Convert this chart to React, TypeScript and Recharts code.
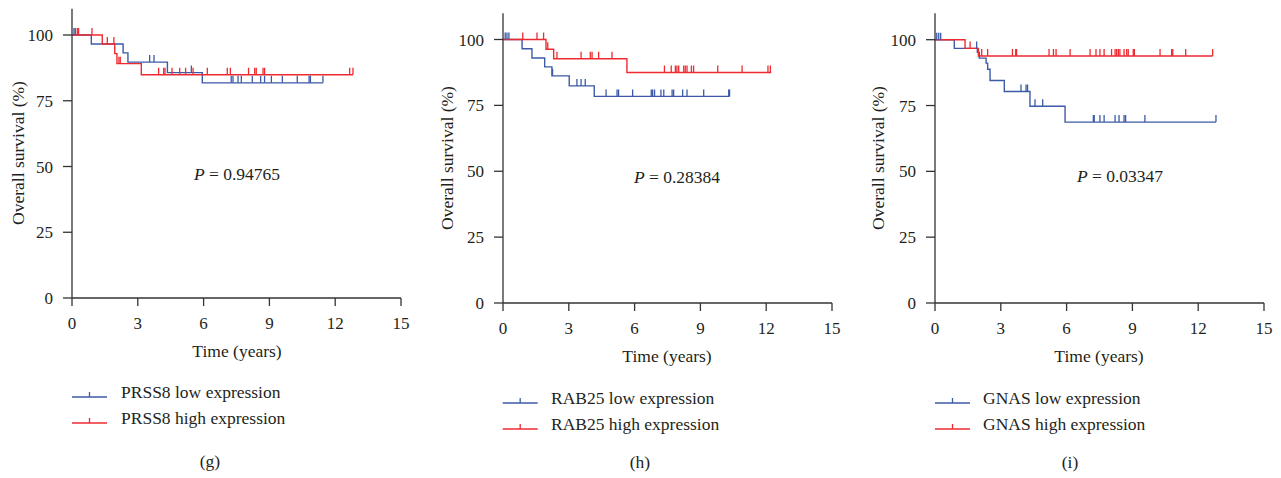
import React from 'react';
import { ComposedChart, Line, Scatter, XAxis, YAxis } from 'recharts';

const BLUE = '#3c5aa8';
const RED = '#ee2a30';
const AXIS = '#333333';
const TEXT = '#231f20';
const FONT = '"Liberation Serif", "Times New Roman", serif';

const xTicks = [0, 3, 6, 9, 12, 15];
const yTicks = [0, 25, 50, 75, 100];

// Panel (g) PRSS8
const prss8Low = [
  { t: 0, s: 100 }, { t: 0.88, s: 96.6 }, { t: 2.33, s: 93.2 }, { t: 2.55, s: 89.7 },
  { t: 4.35, s: 85.7 }, { t: 5.94, s: 81.8 }, { t: 11.44, s: 81.8 },
];
const prss8High = [
  { t: 0, s: 100 }, { t: 1.38, s: 96.6 }, { t: 1.95, s: 92.9 }, { t: 2.05, s: 89.1 },
  { t: 3.16, s: 84.9 }, { t: 12.81, s: 84.9 },
];
const prss8LowCensor = [
  { t: 0.09, s: 100 }, { t: 0.15, s: 100 }, { t: 3.54, s: 89.7 }, { t: 3.74, s: 89.7 },
  { t: 5.44, s: 85.7 }, { t: 7.26, s: 81.8 }, { t: 7.34, s: 81.8 }, { t: 7.57, s: 81.8 },
  { t: 7.72, s: 81.8 }, { t: 8.22, s: 81.8 }, { t: 8.6, s: 81.8 }, { t: 8.78, s: 81.8 },
  { t: 9.09, s: 81.8 }, { t: 9.59, s: 81.8 }, { t: 10.27, s: 81.8 }, { t: 10.81, s: 81.8 },
  { t: 10.87, s: 81.8 }, { t: 11.44, s: 81.8 },
];
const prss8HighCensor = [
  { t: 0.24, s: 100 }, { t: 0.3, s: 100 }, { t: 0.91, s: 100 }, { t: 1.61, s: 96.6 },
  { t: 1.91, s: 96.6 }, { t: 2.14, s: 89.1 }, { t: 2.2, s: 89.1 }, { t: 3.95, s: 84.9 },
  { t: 4.18, s: 84.9 }, { t: 4.24, s: 84.9 }, { t: 4.56, s: 84.9 }, { t: 4.91, s: 84.9 },
  { t: 5.18, s: 84.9 }, { t: 5.52, s: 84.9 }, { t: 6.17, s: 84.9 }, { t: 7.08, s: 84.9 },
  { t: 7.22, s: 84.9 }, { t: 8.05, s: 84.9 }, { t: 8.33, s: 84.9 }, { t: 8.4, s: 84.9 },
  { t: 8.71, s: 84.9 }, { t: 8.78, s: 84.9 }, { t: 12.66, s: 84.9 }, { t: 12.81, s: 84.9 },
];

// Panel (h) RAB25
const rab25Low = [
  { t: 0, s: 100 }, { t: 0.87, s: 96.5 }, { t: 1.32, s: 93.0 }, { t: 1.9, s: 89.6 },
  { t: 2.23, s: 86.2 }, { t: 3.02, s: 82.4 }, { t: 4.16, s: 78.4 }, { t: 10.33, s: 78.4 },
];
const rab25High = [
  { t: 0, s: 100 }, { t: 1.96, s: 96.3 }, { t: 2.31, s: 92.7 }, { t: 5.65, s: 87.5 },
  { t: 12.23, s: 87.5 },
];
const rab25LowCensor = [
  { t: 0.1, s: 100 }, { t: 0.18, s: 100 }, { t: 0.27, s: 100 }, { t: 2.26, s: 86.2 },
  { t: 3.37, s: 82.4 }, { t: 3.56, s: 82.4 }, { t: 3.75, s: 82.4 }, { t: 4.7, s: 78.4 },
  { t: 5.2, s: 78.4 }, { t: 5.27, s: 78.4 }, { t: 5.91, s: 78.4 }, { t: 6.76, s: 78.4 },
  { t: 6.82, s: 78.4 }, { t: 6.91, s: 78.4 }, { t: 7.2, s: 78.4 }, { t: 7.33, s: 78.4 },
  { t: 7.71, s: 78.4 }, { t: 7.78, s: 78.4 }, { t: 8.19, s: 78.4 }, { t: 8.39, s: 78.4 },
  { t: 9.15, s: 78.4 }, { t: 10.29, s: 78.4 }, { t: 10.33, s: 78.4 },
];
const rab25HighCensor = [
  { t: 0.9, s: 100 }, { t: 1.55, s: 100 }, { t: 1.85, s: 100 }, { t: 2.04, s: 96.3 },
  { t: 2.46, s: 92.7 }, { t: 3.56, s: 92.7 }, { t: 3.98, s: 92.7 }, { t: 4.06, s: 92.7 },
  { t: 4.36, s: 92.7 }, { t: 4.97, s: 92.7 }, { t: 7.36, s: 87.5 }, { t: 7.67, s: 87.5 },
  { t: 7.86, s: 87.5 }, { t: 7.93, s: 87.5 }, { t: 8.01, s: 87.5 }, { t: 8.24, s: 87.5 },
  { t: 8.31, s: 87.5 }, { t: 8.39, s: 87.5 }, { t: 8.59, s: 87.5 }, { t: 8.69, s: 87.5 },
  { t: 9.79, s: 87.5 }, { t: 10.9, s: 87.5 }, { t: 12.08, s: 87.5 }, { t: 12.19, s: 87.5 },
];

// Panel (i) GNAS
const gnasLow = [
  { t: 0, s: 100 }, { t: 0.88, s: 96.7 }, { t: 1.93, s: 95.2 }, { t: 2.02, s: 93.0 },
  { t: 2.33, s: 91.1 }, { t: 2.4, s: 88.8 }, { t: 2.51, s: 84.5 }, { t: 3.16, s: 80.3 },
  { t: 4.33, s: 74.7 }, { t: 5.93, s: 68.7 }, { t: 12.81, s: 68.7 },
];
const gnasHigh = [
  { t: 0, s: 100 }, { t: 1.37, s: 96.7 }, { t: 1.98, s: 93.8 }, { t: 12.66, s: 93.8 },
];
const gnasLowCensor = [
  { t: 0.08, s: 100 }, { t: 0.17, s: 100 }, { t: 0.26, s: 100 }, { t: 1.9, s: 96.7 },
  { t: 3.92, s: 80.3 }, { t: 4.15, s: 80.3 }, { t: 4.22, s: 80.3 }, { t: 4.56, s: 74.7 },
  { t: 4.91, s: 74.7 }, { t: 7.22, s: 68.7 }, { t: 7.26, s: 68.7 }, { t: 7.52, s: 68.7 },
  { t: 7.71, s: 68.7 }, { t: 8.21, s: 68.7 }, { t: 8.39, s: 68.7 }, { t: 8.62, s: 68.7 },
  { t: 8.69, s: 68.7 }, { t: 9.57, s: 68.7 }, { t: 12.81, s: 68.7 },
];
const gnasHighCensor = [
  { t: 1.6, s: 96.7 }, { t: 2.13, s: 93.8 }, { t: 2.4, s: 93.8 }, { t: 3.53, s: 93.8 },
  { t: 3.68, s: 93.8 }, { t: 3.72, s: 93.8 }, { t: 5.2, s: 93.8 }, { t: 5.4, s: 93.8 },
  { t: 5.52, s: 93.8 }, { t: 6.16, s: 93.8 }, { t: 7.07, s: 93.8 }, { t: 7.34, s: 93.8 },
  { t: 7.52, s: 93.8 }, { t: 7.71, s: 93.8 }, { t: 8.05, s: 93.8 }, { t: 8.21, s: 93.8 },
  { t: 8.28, s: 93.8 }, { t: 8.36, s: 93.8 }, { t: 8.43, s: 93.8 }, { t: 8.62, s: 93.8 },
  { t: 8.74, s: 93.8 }, { t: 8.81, s: 93.8 }, { t: 9.04, s: 93.8 }, { t: 9.09, s: 93.8 },
  { t: 10.26, s: 93.8 }, { t: 10.79, s: 93.8 }, { t: 10.84, s: 93.8 }, { t: 11.43, s: 93.8 },
  { t: 12.66, s: 93.8 },
];

const genes = ['PRSS8', 'RAB25', 'GNAS'];
const pValues = ['0.94765', '0.28384', '0.03347'];
const captions = ['(g)', '(h)', '(i)'];

const censorShape = (color: string) => (props: any) => {
  const { cx, cy } = props;
  if (cx == null || cy == null) return <g />;
  return <line x1={cx} x2={cx} y1={cy} y2={cy - 7} stroke={color} strokeWidth={1.3} />;
};

type PanelProps = {
  x0: number; y0: number; y100: number;
  low: any[]; high: any[]; lowC: any[]; highC: any[];
};

const W = 430;
const PLOT_W = 329;
const Y_AXIS_W = 60;
const X_AXIS_H = 30;

function Panel({ x0, y0, y100, low, high, lowC, highC }: PanelProps) {
  const plotH = (y0 - y100) * 1.1;
  const top = y0 - plotH;
  const tickStyle = { fill: TEXT, fontSize: 17, fontFamily: FONT };
  return (
    <div style={{ position: 'absolute', left: x0 - 72, top: 0 }}>
      <ComposedChart
        width={W}
        height={478}
        margin={{ top, left: 72 - Y_AXIS_W, right: W - 72 - PLOT_W, bottom: 478 - y0 - X_AXIS_H }}
      >
        <XAxis
          type="number" dataKey="t" domain={[0, 15]} ticks={xTicks} interval={0}
          allowDataOverflow height={X_AXIS_H} tickSize={8} tickMargin={11}
          stroke={AXIS} tick={tickStyle} axisLine={{ stroke: AXIS, strokeWidth: 1.3 }}
          tickLine={{ stroke: AXIS, strokeWidth: 1.3 }}
        />
        <YAxis
          type="number" dataKey="s" domain={[0, 110]} ticks={yTicks} interval={0}
          allowDataOverflow width={Y_AXIS_W} tickSize={9} tickMargin={10}
          stroke={AXIS} tick={tickStyle} axisLine={{ stroke: AXIS, strokeWidth: 1.3 }}
          tickLine={{ stroke: AXIS, strokeWidth: 1.3 }}
        />
        <Line data={low} type="stepAfter" dataKey="s" stroke={BLUE} strokeWidth={1.4}
          dot={false} activeDot={false} isAnimationActive={false} />
        <Line data={high} type="stepAfter" dataKey="s" stroke={RED} strokeWidth={1.4}
          dot={false} activeDot={false} isAnimationActive={false} />
        <Scatter data={lowC} dataKey="s" shape={censorShape(BLUE)} isAnimationActive={false} />
        <Scatter data={highC} dataKey="s" shape={censorShape(RED)} isAnimationActive={false} />
      </ComposedChart>
    </div>
  );
}

const layouts = [
  { x0: 72, y0: 298, y100: 35, yLabel: [18, 153], xLabel: [237, 351], p: [237, 174],
    leg: { x: 72, y1: 397, y2: 423, tx: 121 }, cap: [210, 461] },
  { x0: 502.7, y0: 303, y100: 39.5, yLabel: [447, 158], xLabel: [667, 356], p: [677, 177],
    leg: { x: 502.7, y1: 403, y2: 429, tx: 551 }, cap: [640, 462] },
  { x0: 935, y0: 303, y100: 39.7, yLabel: [878, 158], xLabel: [1099, 356], p: [1120, 176],
    leg: { x: 935, y1: 403, y2: 429, tx: 983 }, cap: [1070, 462] },
];

export default function App() {
  const series = [
    [prss8Low, prss8High, prss8LowCensor, prss8HighCensor],
    [rab25Low, rab25High, rab25LowCensor, rab25HighCensor],
    [gnasLow, gnasHigh, gnasLowCensor, gnasHighCensor],
  ];
  const txt = { fontFamily: FONT, fill: TEXT, fontSize: 17.5 } as const;
  return (
    <div style={{ position: 'absolute', left: 0, top: 0, width: 1281, height: 478, overflow: 'hidden', background: '#fff' }}>
      {layouts.map((l, i) => (
        <Panel key={i} x0={l.x0} y0={l.y0} y100={l.y100}
          low={series[i][0]} high={series[i][1]} lowC={series[i][2]} highC={series[i][3]} />
      ))}
      <svg width={1281} height={478} style={{ position: 'absolute', left: 0, top: 0, pointerEvents: 'none' }}>
        {layouts.map((l, i) => (
          <g key={i}>
            <text {...txt} x={l.yLabel[0]} y={l.yLabel[1]} textAnchor="middle" dominantBaseline="central"
              transform={`rotate(-90 ${l.yLabel[0]} ${l.yLabel[1]})`}>Overall survival (%)</text>
            <text {...txt} x={l.xLabel[0]} y={l.xLabel[1]} textAnchor="middle" dominantBaseline="central">Time (years)</text>
            <text {...txt} x={l.p[0]} y={l.p[1]} textAnchor="middle" dominantBaseline="central">
              <tspan fontStyle="italic">P</tspan> = {pValues[i]}
            </text>
            <line x1={l.leg.x} x2={l.leg.x + 35} y1={l.leg.y1} y2={l.leg.y1} stroke={BLUE} strokeWidth={1.3} />
            <line x1={l.leg.x + 17.5} x2={l.leg.x + 17.5} y1={l.leg.y1} y2={l.leg.y1 - 5} stroke={BLUE} strokeWidth={1.3} />
            <line x1={l.leg.x} x2={l.leg.x + 35} y1={l.leg.y2} y2={l.leg.y2} stroke={RED} strokeWidth={1.3} />
            <line x1={l.leg.x + 17.5} x2={l.leg.x + 17.5} y1={l.leg.y2} y2={l.leg.y2 - 5} stroke={RED} strokeWidth={1.3} />
            <text {...txt} x={l.leg.tx} y={l.leg.y1 - 5} dominantBaseline="central">{genes[i]} low expression</text>
            <text {...txt} x={l.leg.tx} y={l.leg.y2 - 5} dominantBaseline="central">{genes[i]} high expression</text>
            <text {...txt} x={l.cap[0]} y={l.cap[1]} textAnchor="middle" dominantBaseline="central">{captions[i]}</text>
          </g>
        ))}
      </svg>
    </div>
  );
}
